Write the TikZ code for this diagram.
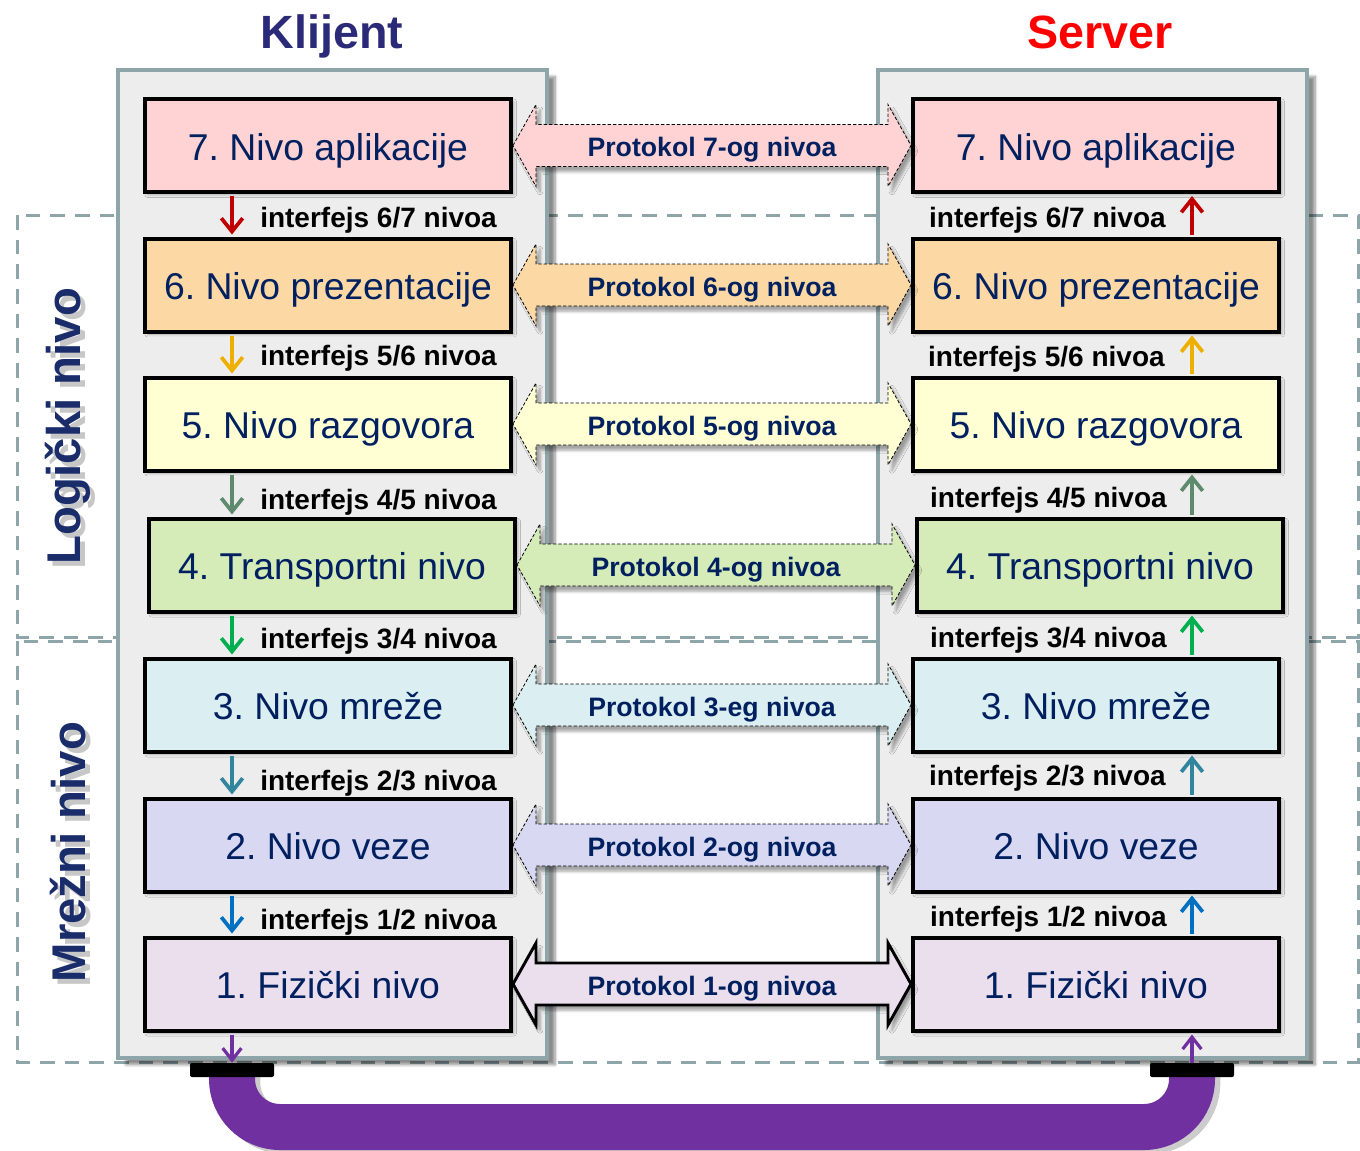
\documentclass[tikz,border=0pt]{standalone}
\usepackage{fontspec}
\setmainfont{Liberation Sans}
\usetikzlibrary{calc,arrows.meta,shadows.blur}
\definecolor{fSeven}{HTML}{FFD3D3}
\definecolor{fSix}{HTML}{FCD9A4}
\definecolor{fFive}{HTML}{FFFFD3}
\definecolor{fFour}{HTML}{D5EBB8}
\definecolor{fThree}{HTML}{DBEEF1}
\definecolor{fTwo}{HTML}{D8D8F3}
\definecolor{fOne}{HTML}{EBDFEE}
\definecolor{aSeven}{HTML}{C00000}
\definecolor{aSix}{HTML}{EDB000}
\definecolor{aFive}{HTML}{5E8B6E}
\definecolor{aFour}{HTML}{00B050}
\definecolor{aThree}{HTML}{31859C}
\definecolor{aTwo}{HTML}{0070C0}
\definecolor{aOne}{HTML}{7030A0}
\definecolor{navy}{HTML}{002060}
\definecolor{klcol}{HTML}{2B2A78}
\definecolor{sidecol}{HTML}{1A2D6A}
\definecolor{framecol}{HTML}{8EA6A9}
\definecolor{boxgray}{HTML}{EDEDED}
\pgfdeclarelayer{background}
\pgfsetlayers{background,main}
\frenchspacing
\newcommand{\protarrow}[5]{%
  \draw[#4, fill=#3, blur shadow={shadow xshift=3pt, shadow yshift=-4pt, shadow opacity=35, shadow blur steps=6}]
    (#1.east) -- ++(23,-41) -- ++(0,20) -- ($(#2.west)+(-23,-21)$) -- ++(0,-20) -- (#2.west)
    -- ++(-23,41) -- ++(0,-20) -- ($(#1.east)+(23,21)$) -- ++(0,20) -- cycle;
  \node[protlabel] at ($(#1.east)!0.5!(#2.west)$) {#5};
}
\begin{document}
\begin{tikzpicture}[x=0.75pt,y=-0.75pt,
  layerbox/.style={draw=black, line width=3pt, minimum width=274.5pt, minimum height=69.75pt,
    inner sep=0pt, text=navy, font=\fontsize{28}{32}\selectfont, text height=26pt, text depth=4.25pt,
    blur shadow={shadow xshift=2pt, shadow yshift=-2pt, shadow opacity=30, shadow blur steps=4}},
  container/.style={draw=framecol, fill=boxgray, line width=3pt, minimum width=321.75pt,
    minimum height=741pt, inner sep=0pt,
    blur shadow={shadow xshift=6pt, shadow yshift=-5pt, shadow opacity=45, shadow blur steps=8}},
  region/.style={draw=framecol, line width=2.25pt, dash pattern=on 11pt off 7.5pt},
  protlabel/.style={text=navy, font=\fontsize{20}{24}\selectfont\bfseries, inner sep=0pt,
    text height=18pt, text depth=1.5pt},
  dashedproto/.style={draw=black, line width=0.6pt, dash pattern=on 2.5pt off 1.5pt},
  solidproto/.style={draw=black, line width=2.2pt, line join=miter},
  ifarrow/.style={line width=2.8pt, -{Straight Barb[length=10pt,width=16pt,line width=2.8pt]},
    shorten <=1.5pt, shorten >=1.5pt},
  iflabel/.style={font=\fontsize{21}{25}\selectfont\bfseries, inner sep=0pt, text=black,
    text height=16pt, text depth=1pt},
  heading/.style={font=\fontsize{35}{40}\selectfont\bfseries, inner sep=0pt, anchor=base},
  sidelabel/.style={rotate=90, font=\fontsize{35.5}{40}\selectfont\bfseries, inner sep=0pt},
  connector/.style={fill=black, minimum width=63pt, minimum height=10.5pt, inner sep=0pt,
    rounded corners=1.5pt},
  cable/.style={draw=aOne, line width=34.5pt, rounded corners=36pt},
]
\useasboundingbox (0,0) rectangle (1360,1150);

% dashed regions
\draw[region] (17,215) rectangle (1358,637);
\draw[region] (17,641) rectangle (1358,1062);

% side labels
\node[sidelabel, text=black, opacity=0.22] at (73,431) {Logički nivo};
\node[sidelabel, text=sidecol] (logic) at (68,426) {Logički nivo};
\node[sidelabel, text=black, opacity=0.22] at (73,857) {Mrežni nivo};
\node[sidelabel, text=sidecol] (network) at (68,852) {Mrežni nivo};

% containers
\node[container] (client) at (332.5,564) {};
\node[container] (server) at (1092.5,564) {};

% headings
\node[heading, text=klcol] (klijent) at (332,48) {Klijent};
\node[heading, text=red] (serverh) at (1100,48) {Server};

% client layers
\node[layerbox, fill=fSeven] (c7) at (328,145.5) {7. Nivo aplikacije};
\node[layerbox, fill=fSix]   (c6) at (328,285) {6. Nivo prezentacije};
\node[layerbox, fill=fFive]  (c5) at (328,424) {5. Nivo razgovora};
\node[layerbox, fill=fFour]  (c4) at (332,565) {4. Transportni nivo};
\node[layerbox, fill=fThree] (c3) at (328,705) {3. Nivo mreže};
\node[layerbox, fill=fTwo]   (c2) at (328,845) {2. Nivo veze};
\node[layerbox, fill=fOne]   (c1) at (328,984) {1. Fizički nivo};

% server layers
\node[layerbox, fill=fSeven] (s7) at (1096,145.5) {7. Nivo aplikacije};
\node[layerbox, fill=fSix]   (s6) at (1096,285) {6. Nivo prezentacije};
\node[layerbox, fill=fFive]  (s5) at (1096,424) {5. Nivo razgovora};
\node[layerbox, fill=fFour]  (s4) at (1100,565) {4. Transportni nivo};
\node[layerbox, fill=fThree] (s3) at (1096,705) {3. Nivo mreže};
\node[layerbox, fill=fTwo]   (s2) at (1096,845) {2. Nivo veze};
\node[layerbox, fill=fOne]   (s1) at (1096,984) {1. Fizički nivo};

% protocol arrows
\protarrow{c7}{s7}{fSeven}{dashedproto}{Protokol 7-og nivoa}
\protarrow{c6}{s6}{fSix}{dashedproto}{Protokol 6-og nivoa}
\protarrow{c5}{s5}{fFive}{dashedproto}{Protokol 5-og nivoa}
\protarrow{c4}{s4}{fFour}{dashedproto}{Protokol 4-og nivoa}
\protarrow{c3}{s3}{fThree}{dashedproto}{Protokol 3-eg nivoa}
\protarrow{c2}{s2}{fTwo}{dashedproto}{Protokol 2-og nivoa}
\protarrow{c1}{s1}{fOne}{solidproto}{Protokol 1-og nivoa}

% interface arrows
\coordinate (ax) at (232,0);
\coordinate (sx) at (1192,0);
\draw[ifarrow, aSeven] (c7.south -| ax) -- (c6.north -| ax);
\draw[ifarrow, aSix]   (c6.south -| ax) -- (c5.north -| ax);
\draw[ifarrow, aFive]  (c5.south -| ax) -- (c4.north -| ax);
\draw[ifarrow, aFour]  (c4.south -| ax) -- (c3.north -| ax);
\draw[ifarrow, aThree] (c3.south -| ax) -- (c2.north -| ax);
\draw[ifarrow, aTwo]   (c2.south -| ax) -- (c1.north -| ax);
\draw[ifarrow, aSeven] (s6.north -| sx) -- (s7.south -| sx);
\draw[ifarrow, aSix]   (s5.north -| sx) -- (s6.south -| sx);
\draw[ifarrow, aFive]  (s4.north -| sx) -- (s5.south -| sx);
\draw[ifarrow, aFour]  (s3.north -| sx) -- (s4.south -| sx);
\draw[ifarrow, aThree] (s2.north -| sx) -- (s3.south -| sx);
\draw[ifarrow, aTwo]   (s1.north -| sx) -- (s2.south -| sx);

% interface labels
\node[iflabel, anchor=west] (ic67) at (260,217) {interfejs 6/7 nivoa};
\node[iflabel, anchor=west] (ic56) at (260,355) {interfejs 5/6 nivoa};
\node[iflabel, anchor=west] (ic45) at (260,499) {interfejs 4/5 nivoa};
\node[iflabel, anchor=west] (ic34) at (260,638) {interfejs 3/4 nivoa};
\node[iflabel, anchor=west] (ic23) at (260,780) {interfejs 2/3 nivoa};
\node[iflabel, anchor=west] (ic12) at (260,919) {interfejs 1/2 nivoa};
\node[iflabel, anchor=east] (is67) at (1166,217) {interfejs 6/7 nivoa};
\node[iflabel, anchor=east] (is56) at (1165,356) {interfejs 5/6 nivoa};
\node[iflabel, anchor=east] (is45) at (1167,497) {interfejs 4/5 nivoa};
\node[iflabel, anchor=east] (is34) at (1167,637) {interfejs 3/4 nivoa};
\node[iflabel, anchor=east] (is23) at (1166,775) {interfejs 2/3 nivoa};
\node[iflabel, anchor=east] (is12) at (1167,916) {interfejs 1/2 nivoa};

% physical connectors and cable
\node[connector] (cc) at (232,1070) {};
\node[connector] (sc) at (1192,1070) {};
\begin{pgfonlayer}{background}
\draw[cable, draw=black, opacity=0.2, transform canvas={shift={(4pt,-3pt)}}] (cc.center) -- ++(0,57) -| (sc.center);
\draw[cable] (cc.center) -- ++(0,57) -| (sc.center);
\end{pgfonlayer}
\draw[line width=2.4pt, aOne, -{Straight Barb[length=9pt,width=14pt,line width=2.4pt]}, shorten <=1.5pt] (c1.south -| ax) -- (cc.north);
\draw[line width=2.4pt, aOne, -{Straight Barb[length=9pt,width=14pt,line width=2.4pt]}, shorten >=1.5pt] (sc.north) -- (s1.south -| sx);
\end{tikzpicture}
\end{document}
